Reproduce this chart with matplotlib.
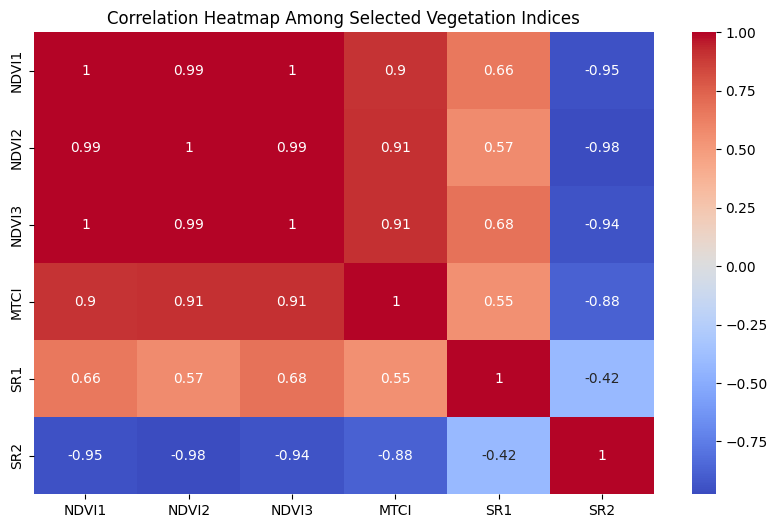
import matplotlib
matplotlib.use('Agg')
import matplotlib.pyplot as plt
import numpy as np
import seaborn as sns

labels = ['NDVI1', 'NDVI2', 'NDVI3', 'MTCI', 'SR1', 'SR2']
# two more decimals than the annotations show, so the colours come out right
row_ndvi1 = [1, 0.994, 0.997, 0.90, 0.66, -0.95]
row_ndvi2 = [0.994, 1, 0.994, 0.91, 0.57, -0.976]
row_ndvi3 = [0.997, 0.994, 1, 0.91, 0.68, -0.94]
row_mtci = [0.90, 0.91, 0.91, 1, 0.55, -0.88]
row_sr1 = [0.66, 0.57, 0.68, 0.55, 1, -0.42]
row_sr2 = [-0.95, -0.976, -0.94, -0.88, -0.42, 1]

corr = np.array([row_ndvi1, row_ndvi2, row_ndvi3, row_mtci, row_sr1, row_sr2])

fig, ax = plt.subplots(figsize=(10, 6))
sns.heatmap(corr, annot=True, cmap='coolwarm', xticklabels=labels, yticklabels=labels, ax=ax)
ax.set_title('Correlation Heatmap Among Selected Vegetation Indices')
fig.savefig('out.png', dpi=100, bbox_inches='tight')
print('Done.')
